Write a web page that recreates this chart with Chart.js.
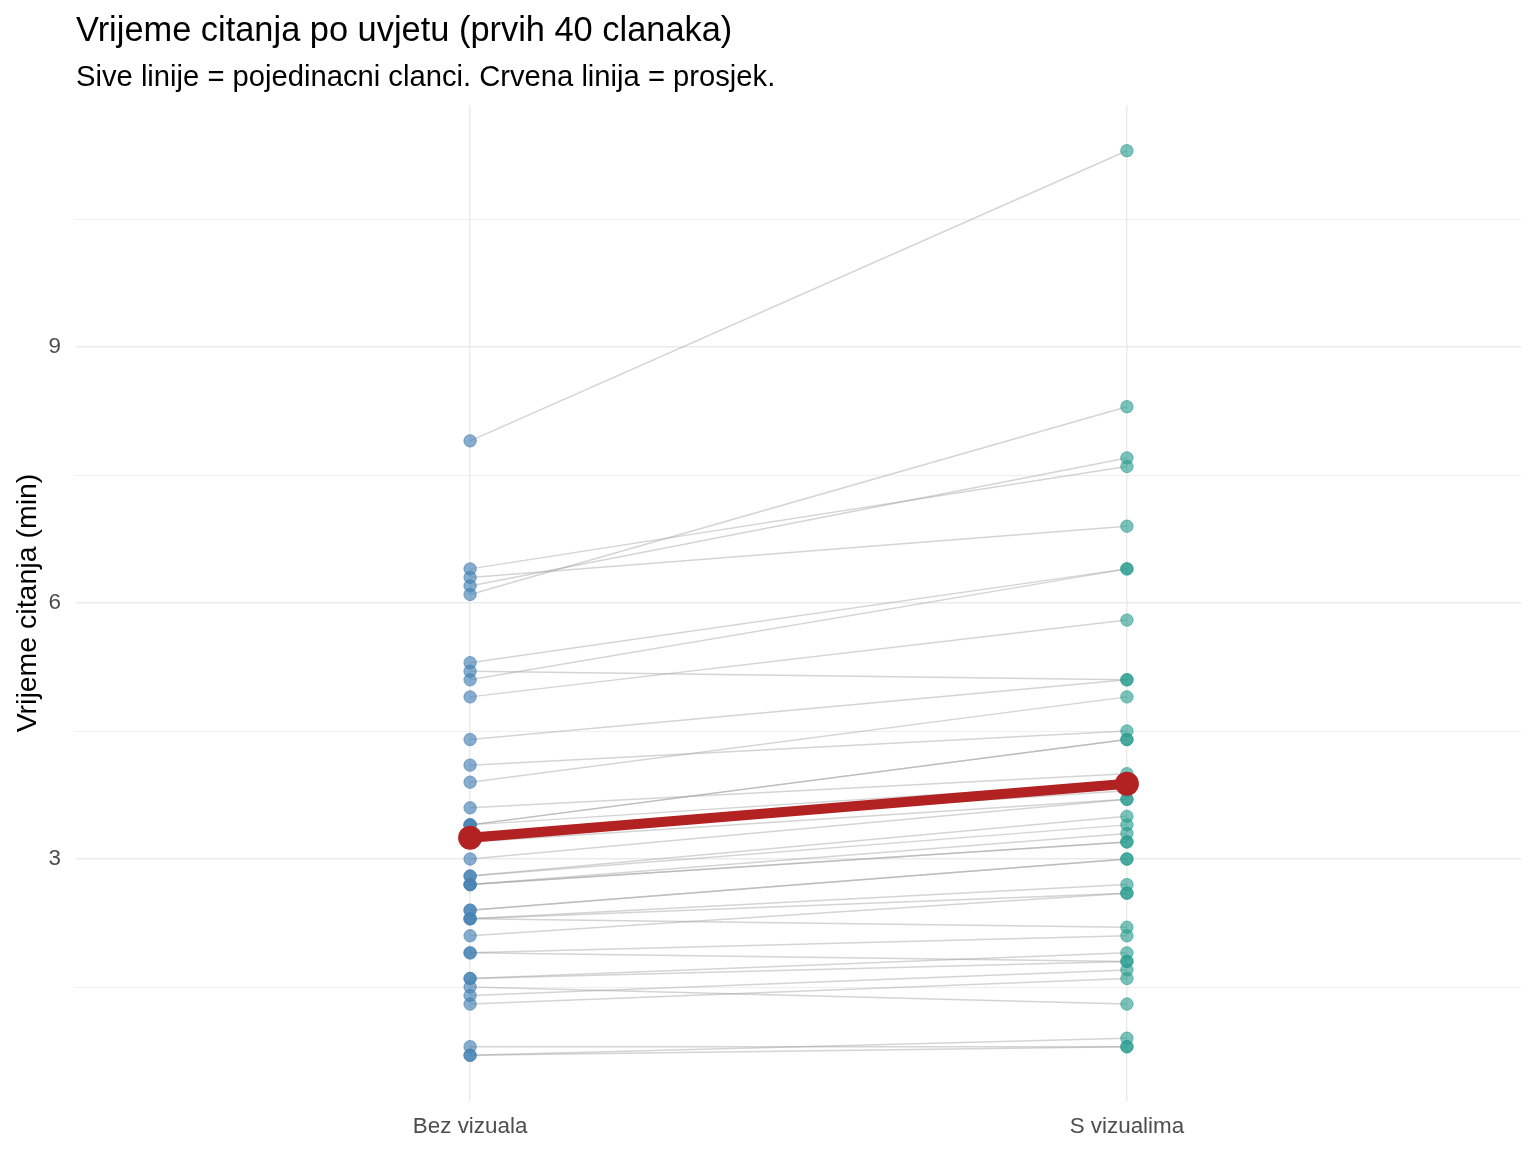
<!DOCTYPE html>
<html>
<head>
<meta charset="utf-8">
<script src="https://cdn.jsdelivr.net/npm/chart.js@4.4.0/dist/chart.umd.min.js"></script>
<style>
  html, body { margin: 0; padding: 0; background: #fff; }
  #wrap { width: 1536px; height: 1152px; }
</style>
</head>
<body>
<div id="wrap"><canvas id="chart" width="1536" height="1152"></canvas></div>
<script>
// kategorije i podaci (prvih 40 clanaka, parovi po indeksu)
const conditions = ["Bez vizuala", "S vizualima"];
const bezVizuala = [7.9, 6.4, 6.3, 6.2, 6.1, 5.3, 5.2, 5.1, 4.9, 4.4, 4.1, 3.9, 3.6, 3.4, 3.4, 3.4, 3.3, 3.2, 3.0, 2.8,
  2.8, 2.7, 2.7, 2.7, 2.4, 2.4, 2.3, 2.3, 2.3, 2.1, 1.9, 1.9, 1.6, 1.6, 1.5, 1.4, 1.3, 0.8, 0.7, 0.7];
const sVizualima = [11.3, 7.6, 6.9, 7.7, 8.3, 6.4, 5.1, 6.4, 5.8, 5.1, 4.5, 4.9, 4.0, 4.4, 4.4, 3.9, 3.8, 3.7, 3.7, 3.5,
  3.4, 3.3, 3.2, 3.2, 3.0, 3.0, 2.6, 2.2, 2.7, 2.6, 2.1, 1.8, 1.9, 1.8, 1.3, 1.7, 1.6, 0.8, 0.9, 0.8];
const yTickLabels = [3, 6, 9];
const yMinorTicks = [1.5, 4.5, 7.5, 10.5];

const mean = (arr) => arr.reduce((a, b) => a + b, 0) / arr.length;
const means = [mean(bezVizuala), mean(sVizualima)];

const FONT = "'Liberation Sans', Arial, sans-serif";

// sive linije za svaki clanak
const lineSets = bezVizuala.map((v, i) => ({
  data: [{ x: 1, y: v }, { x: 2, y: sVizualima[i] }],
  showLine: true,
  borderColor: "rgba(160,160,160,0.45)",
  borderWidth: 1.5,
  pointRadius: 0,
  order: 3,
}));

const datasets = [
  {
    data: means.map((m, i) => ({ x: i + 1, y: m })),
    showLine: true,
    borderColor: "#b22222",
    borderWidth: 10,
    pointRadius: 12,
    pointBackgroundColor: "#b22222",
    pointBorderColor: "#b22222",
    pointBorderWidth: 0,
    order: 0,
  },
  {
    data: bezVizuala.map((v) => ({ x: 1, y: v })),
    pointRadius: 6.2,
    pointBackgroundColor: "rgba(70,130,180,0.65)",
    pointBorderColor: "rgba(70,130,180,0.65)",
    pointBorderWidth: 1,
    order: 1,
  },
  {
    data: sVizualima.map((v) => ({ x: 2, y: v })),
    pointRadius: 6.2,
    pointBackgroundColor: "rgba(42,157,143,0.62)",
    pointBorderColor: "rgba(42,157,143,0.62)",
    pointBorderWidth: 1,
    order: 1,
  },
  ...lineSets,
];

const ctx = document.getElementById("chart").getContext("2d");
const chart = new Chart(ctx, {
  type: "scatter",
  data: { datasets: datasets },
  options: {
    responsive: false,
    animation: false,
    events: [],
    layout: { padding: { top: 0, right: 15, bottom: 0, left: 0 } },
    plugins: {
      legend: { display: false },
      tooltip: { enabled: false },
      title: {
        display: true,
        text: "Vrijeme citanja po uvjetu (prvih 40 clanaka)",
        align: "start",
        fullSize: false,
        color: "#000",
        font: { family: FONT, size: 34.4, weight: "normal" },
        padding: { top: 10.5, bottom: 0 },
      },
      subtitle: {
        display: true,
        text: "Sive linije = pojedinacni clanci. Crvena linija = prosjek.",
        align: "start",
        fullSize: false,
        color: "#000",
        font: { family: FONT, size: 29.2, weight: "normal" },
        padding: { top: 8.6, bottom: 10.1 },
      },
    },
    scales: {
      x: {
        type: "linear",
        min: 0.4,
        max: 2.6,
        afterBuildTicks: (s) => { s.ticks = conditions.map((c, i) => ({ value: i + 1 })); },
        afterFit: (s) => { s.height = 51.5; },
        ticks: {
          callback: (v) => conditions[v - 1] || "",
          color: "#4d4d4d",
          font: { family: FONT, size: 22.4 },
          padding: 13,
          maxRotation: 0,
          autoSkip: false,
        },
        grid: { color: "#ebebeb", lineWidth: 1.5, drawTicks: false },
        border: { display: false },
      },
      y: {
        min: 0.17,
        max: 11.83,
        afterBuildTicks: (s) => {
          s.ticks = yTickLabels.concat(yMinorTicks).sort((a, b) => a - b).map((v) => ({ value: v }));
        },
        afterFit: (s) => { s.width = 76; },
        ticks: {
          callback: (v) => (yTickLabels.includes(v) ? String(v) : ""),
          color: "#4d4d4d",
          font: { family: FONT, size: 22.4 },
          padding: 15,
          autoSkip: false,
        },
        grid: {
          color: "#ebebeb",
          lineWidth: (c) => (yTickLabels.includes(c.tick.value) ? 1.5 : 0.8),
          drawTicks: false,
        },
        border: { display: false },
        title: {
          display: true,
          text: "Vrijeme citanja (min)",
          color: "#000",
          font: { family: FONT, size: 28.5 },
          padding: { top: 11, bottom: 0 },
        },
      },
    },
  },
});
</script>
</body>
</html>
